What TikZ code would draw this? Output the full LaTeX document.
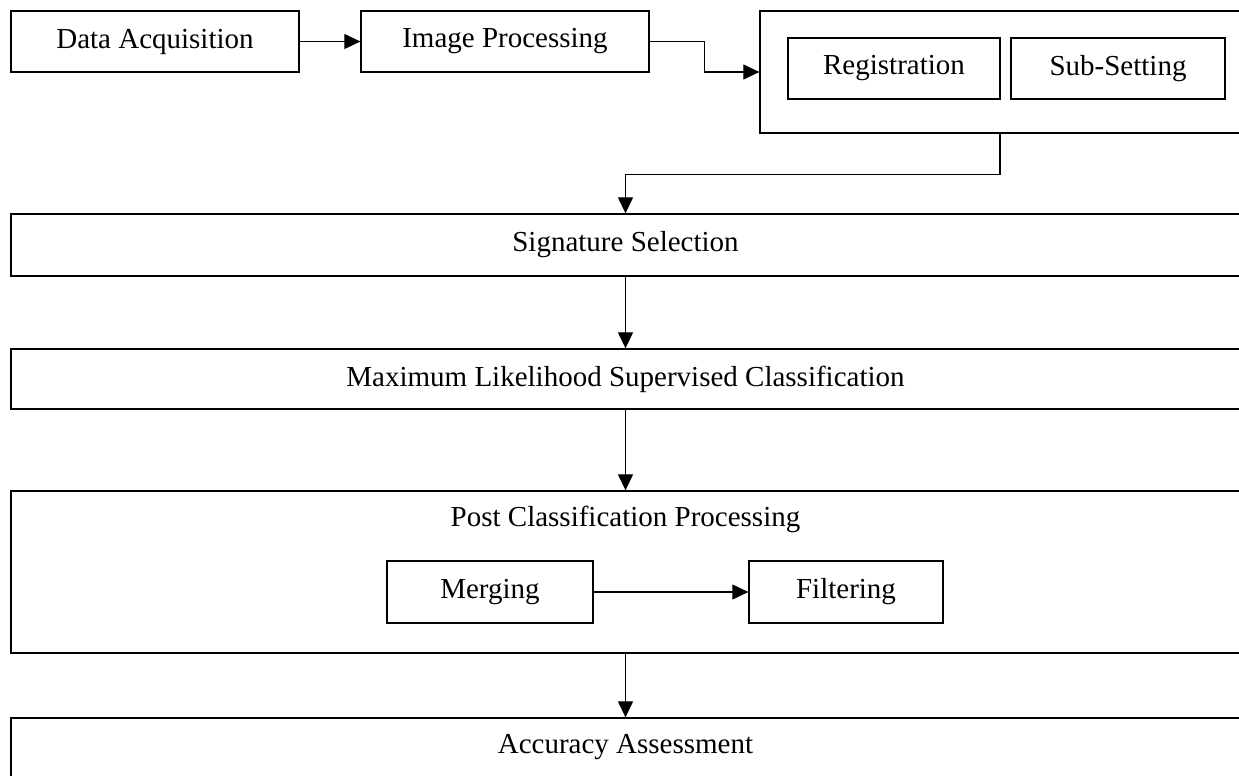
\documentclass[tikz,border=0pt]{standalone}
\usepackage{fontspec}
\setmainfont{Liberation Serif}
\usetikzlibrary{arrows.meta}
\begin{document}
\begin{tikzpicture}[x=1pt,y=-1pt,
  every node/.style={font=\fontsize{29}{34}\selectfont, inner sep=0pt},
  stagebox/.style={draw, line width=1.3pt, rectangle, minimum height=61pt},
  flow/.style={line width=1.2pt, -{Triangle[length=16pt,width=15pt]}}]
\useasboundingbox (0,0) rectangle (1239,776);
\clip (0,0) rectangle (1239,776);

% top row
\node[stagebox, minimum width=288pt] (da) at (155,41.5) {Data Acquisition};
\node[stagebox, minimum width=288pt] (ip) at (505,41.5) {Image Processing};
\node[stagebox, minimum width=480pt, minimum height=122pt] (outer) at (1000,72) {};
\node[stagebox, minimum width=212pt] (reg) at (894,68.5) {Registration};
\node[stagebox, minimum width=214pt] (sub) at (1118,68.5) {Sub-Setting};

% full-width stages (they run past the right and bottom edges)
\node[stagebox, minimum width=1229pt, minimum height=62pt] (sig) at (625.5,245) {Signature Selection};
\node[stagebox, minimum width=1229pt, minimum height=60pt] (ml) at (625.5,379) {Maximum Likelihood Supervised Classification};
\node[stagebox, minimum width=1229pt, minimum height=162pt] (pc) at (625.5,572) {};
\node (pctext) at (625.5,519) {Post Classification Processing};
\node[stagebox, minimum width=206pt, minimum height=62pt] (merg) at (490,592) {Merging};
\node[stagebox, minimum width=194pt, minimum height=62pt] (filt) at (846,592) {Filtering};
\node[stagebox, minimum width=1229pt, minimum height=82pt] (aa) at (625.5,759) {};
\node (aatext) at (625.5,747) {Accuracy Assessment};

% connectors
\draw[flow] (da.east) -- (ip.west);
\draw[flow] (ip.east) -- ++(55,0) |- (outer.west);
\draw[flow] (outer.south) -- ++(0,41) -| (sig.north);
\draw[flow] (sig.south) -- (ml.north);
\draw[flow] (ml.south) -- (pc.north);
\draw[flow] (merg.east) -- (filt.west);
\draw[flow] (pc.south) -- (aa.north);
\end{tikzpicture}
\end{document}
